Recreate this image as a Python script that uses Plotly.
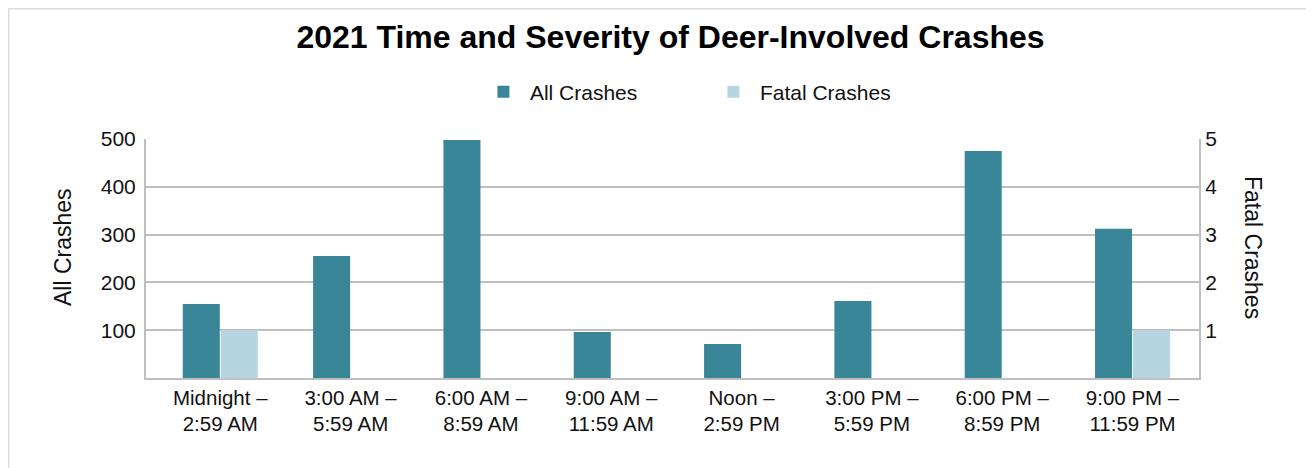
import plotly.graph_objects as go

categories = [
    "Midnight –<br>2:59 AM",
    "3:00 AM –<br>5:59 AM",
    "6:00 AM –<br>8:59 AM",
    "9:00 AM –<br>11:59 AM",
    "Noon –<br>2:59 PM",
    "3:00 PM –<br>5:59 PM",
    "6:00 PM –<br>8:59 PM",
    "9:00 PM –<br>11:59 PM",
]
all_crashes = [155, 255, 498, 96, 71, 161, 475, 312]
fatal_crashes = [1, 0, 0, 0, 0, 0, 0, 1]
left_ticks = [100, 200, 300, 400, 500]
right_ticks = [1, 2, 3, 4, 5]

DARK = "#3A8699"
LIGHT = "#B5D5E0"
GRID = "#BFBFBF"
FONT = "Arial, Liberation Sans, sans-serif"

W, H = 1306, 460
L, R, T, B = 138, 115, 131, 90
PW, PH = W - L - R, H - T - B


def px_x(x):
    return (x - L) / PW


def px_y(y):
    return (H - B - y) / PH


fig = go.Figure()
fig.add_trace(go.Bar(
    x=categories, y=all_crashes, name="All Crashes",
    marker=dict(color=DARK, line=dict(width=0)),
    offsetgroup="a", yaxis="y",
))
fig.add_trace(go.Bar(
    x=categories, y=fatal_crashes, name="Fatal Crashes",
    marker=dict(color=LIGHT, line=dict(width=0)),
    offsetgroup="b", yaxis="y2",
))

fig.update_layout(
    width=W, height=H,
    margin=dict(l=L, r=R, t=T, b=B, autoexpand=False),
    paper_bgcolor="white", plot_bgcolor="white",
    font=dict(family=FONT, color="#111111", size=21),
    barmode="group", bargap=0.417, bargroupgap=0.025,
    title=dict(
        text="<b>2021 Time and Severity of Deer-Involved Crashes</b>",
        x=662.5 / W, xanchor="center", y=1 - 29 / H, yanchor="middle",
        font=dict(size=32, color="#000000", family=FONT),
    ),
    showlegend=True,
    legend=dict(
        orientation="h", x=0.5327, xanchor="center", y=px_y(84), yanchor="middle",
        font=dict(size=21, color="#111111"), itemwidth=43,
        entrywidth=172, entrywidthmode="pixels",
        traceorder="normal",
    ),
    xaxis=dict(
        type="category", range=[-0.57, 7.51],
        showgrid=False, showline=True, linecolor=GRID, linewidth=2,
        ticks="", tickfont=dict(size=20.5), automargin=False,
    ),
    yaxis=dict(
        range=[0, 500], tickvals=left_ticks, showgrid=True, gridcolor=GRID, gridwidth=1.5,
        showline=True, linecolor=GRID, linewidth=2, zeroline=False,
        ticks="", ticklabelstandoff=4, tickfont=dict(size=21),
        automargin=False,
    ),
    yaxis2=dict(
        range=[0, 5], tickvals=right_ticks, overlaying="y", side="right",
        showgrid=False, showline=True, linecolor=GRID, linewidth=2, zeroline=False,
        ticks="", tickfont=dict(size=21),
        automargin=False,
    ),
    annotations=[
        dict(text="All Crashes", xref="paper", yref="paper",
             x=px_x(55), y=px_y(239), xanchor="center", yanchor="middle",
             textangle=-90, showarrow=False, font=dict(size=23, color="#111111")),
        dict(text="Fatal Crashes", xref="paper", yref="paper",
             x=px_x(1245), y=px_y(239), xanchor="center", yanchor="middle",
             textangle=90, showarrow=False, font=dict(size=23, color="#111111")),
    ],
    shapes=[
        dict(type="path", xref="paper", yref="paper",
             path="M %f %f L %f %f L %f %f L %f %f" % (
                 px_x(0.75), px_y(H + 20),
                 px_x(0.75), px_y(0.75),
                 px_x(W - 0.75), px_y(0.75),
                 px_x(W - 0.75), px_y(H + 20)),
             line=dict(color="#DCDCDC", width=1.5), layer="below"),
    ],
)

fig.write_html("out.html")
